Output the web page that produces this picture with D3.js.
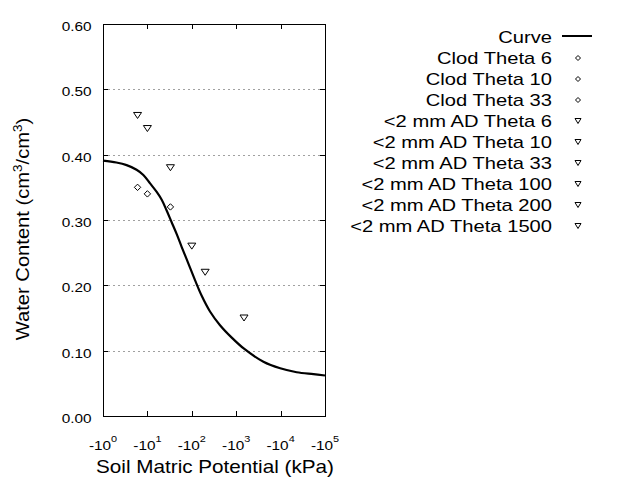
<!DOCTYPE html>
<html>
<head>
<meta charset="utf-8">
<script src="https://cdn.jsdelivr.net/npm/d3@7"></script>
<style>
  html, body { margin: 0; padding: 0; background: #fff; }
  svg { display: block; }
  text { font-family: "Liberation Sans", Arial, sans-serif; fill: #000; }
</style>
</head>
<body>
<svg id="chart" width="640" height="480"></svg>
<script>
// ---- data ----
const curveKPa   = [1, 2, 3.4, 5.7, 8.1, 11.5, 16.2, 21, 27, 35, 46, 59, 83, 118, 167, 257, 432, 793, 1500, 4100, 9800, 23000, 55000, 100000];
const curveTheta = [0.391, 0.388, 0.384, 0.377, 0.369, 0.356, 0.343, 0.331, 0.315, 0.297, 0.278, 0.259, 0.234, 0.208, 0.184, 0.160, 0.139, 0.120, 0.103, 0.083, 0.073, 0.067, 0.064, 0.062];

const clodKPa   = [6, 10, 33];
const clodTheta = [0.35, 0.34, 0.32];

const adKPa   = [6, 10, 33, 100, 200, 1500];
const adTheta = [0.46, 0.44, 0.38, 0.26, 0.22, 0.15];

const legendLabels = ["Curve", "Clod Theta 6", "Clod Theta 10", "Clod Theta 33",
  "<2 mm AD Theta 6", "<2 mm AD Theta 10", "<2 mm AD Theta 33",
  "<2 mm AD Theta 100", "<2 mm AD Theta 200", "<2 mm AD Theta 1500"];
const legendTypes = ["line", "diamond", "diamond", "diamond",
  "triangle", "triangle", "triangle", "triangle", "triangle", "triangle"];

const xTickExp = [0, 1, 2, 3, 4, 5];
const yTicks = [0, 0.1, 0.2, 0.3, 0.4, 0.5, 0.6];
const yGrid = [0.1, 0.2, 0.3, 0.4, 0.5];

// ---- layout ----
const svg = d3.select("#chart");
const L = 103, R = 325, T = 24, B = 416;

const x = d3.scaleLog().domain([1, 1e5]).range([L, R]);
const y = d3.scaleLinear().domain([0, 0.6]).range([B, T]);

function stext(g, px, py, anchor, size, sx, rot) {
  return g.append("text")
    .attr("transform", `translate(${px},${py})` + (rot ? ` rotate(${rot})` : "") + ` scale(${sx},1)`)
    .attr("text-anchor", anchor)
    .style("font-size", size + "px");
}

// grid
svg.append("g").selectAll("line").data(yGrid).join("line")
  .attr("x1", L).attr("x2", R)
  .attr("y1", d => Math.round(y(d)) + 0.5).attr("y2", d => Math.round(y(d)) + 0.5)
  .attr("stroke", "#a0a0a0").attr("stroke-width", 1)
  .attr("stroke-dasharray", "2,3");

// axes with inward ticks
const axL = d3.axisLeft(y).tickValues(yTicks).tickSizeInner(-5).tickSizeOuter(0).tickFormat("");
const axR = d3.axisRight(y).tickValues(yTicks).tickSizeInner(-5).tickSizeOuter(0).tickFormat("");
const axB = d3.axisBottom(x).tickValues(xTickExp.map(e => Math.pow(10, e))).tickSizeInner(-5).tickSizeOuter(0).tickFormat("");
const axT = d3.axisTop(x).tickValues(xTickExp.map(e => Math.pow(10, e))).tickSizeInner(-5).tickSizeOuter(0).tickFormat("");
[[axL, `translate(${L},0)`], [axR, `translate(${R},0)`], [axB, `translate(0,${B})`], [axT, `translate(0,${T})`]]
  .forEach(([ax, tr]) => {
    const g = svg.append("g").attr("transform", tr).call(ax);
    g.select(".domain").remove();
    g.selectAll("line").attr("stroke", "#000").attr("shape-rendering", "crispEdges");
  });

// border
svg.append("rect").attr("x", L + 0.5).attr("y", T + 0.5)
  .attr("width", R - L).attr("height", B - T)
  .attr("fill", "none").attr("stroke", "#000").attr("stroke-width", 1)
  .attr("shape-rendering", "crispEdges");

// y tick labels
const yl = svg.append("g");
yTicks.forEach(v => {
  stext(yl, 91.5, y(v) + 7, "end", 12, 1.28, 0).text(d3.format(".2f")(v));
});

// x tick labels
const xl = svg.append("g");
xTickExp.forEach(e => {
  const t = stext(xl, x(Math.pow(10, e)), 450, "middle", 12, 1.28, 0);
  t.append("tspan").text("-10");
  t.append("tspan").attr("dy", -8).style("font-size", "8.5px").text(e);
});

// axis titles
stext(svg, 215, 473, "middle", 18, 1.15, 0).text("Soil Matric Potential (kPa)");
const yt = stext(svg, 29, 229, "middle", 18, 1.12, -90);
yt.append("tspan").text("Water Content (cm");
yt.append("tspan").attr("dy", -7).style("font-size", "12px").text("3");
yt.append("tspan").attr("dy", 7).text("/cm");
yt.append("tspan").attr("dy", -7).style("font-size", "12px").text("3");
yt.append("tspan").attr("dy", 7).text(")");

// curve
const pts = curveKPa.map((k, i) => [x(k), y(curveTheta[i])]);
svg.append("path")
  .attr("d", d3.line().curve(d3.curveCatmullRom.alpha(0.5))(pts))
  .attr("fill", "none").attr("stroke", "#000").attr("stroke-width", 2.2);

// markers
function diamond(g, cx, cy, r) {
  g.append("path")
    .attr("d", `M${cx},${cy - r}L${cx + r},${cy}L${cx},${cy + r}L${cx - r},${cy}Z`)
    .attr("fill", "none").attr("stroke", "#000").attr("stroke-width", 1);
}
function triangle(g, cx, cy, w, h) {
  g.append("path")
    .attr("d", `M${cx - w / 2},${cy - h / 2}L${cx + w / 2},${cy - h / 2}L${cx},${cy + h / 2}Z`)
    .attr("fill", "none").attr("stroke", "#000").attr("stroke-width", 1);
}
const mk = svg.append("g");
clodKPa.forEach((k, i) => diamond(mk, x(k), y(clodTheta[i]), 3.2));
adKPa.forEach((k, i) => triangle(mk, x(k), y(adTheta[i]), 8, 6));

// legend
const lg = svg.append("g");
legendLabels.forEach((lab, i) => {
  const cy = 37 + i * 21;
  stext(lg, 552, cy + 5.5, "end", 16, 1.26, 0).text(lab);
  if (legendTypes[i] === "line") {
    lg.append("line").attr("x1", 562).attr("x2", 592).attr("y1", cy - 1).attr("y2", cy - 1)
      .attr("stroke", "#000").attr("stroke-width", 2);
  } else if (legendTypes[i] === "diamond") {
    diamond(lg, 578, cy, 2.5);
  } else {
    triangle(lg, 578, cy, 6, 5);
  }
});
</script>
</body>
</html>
